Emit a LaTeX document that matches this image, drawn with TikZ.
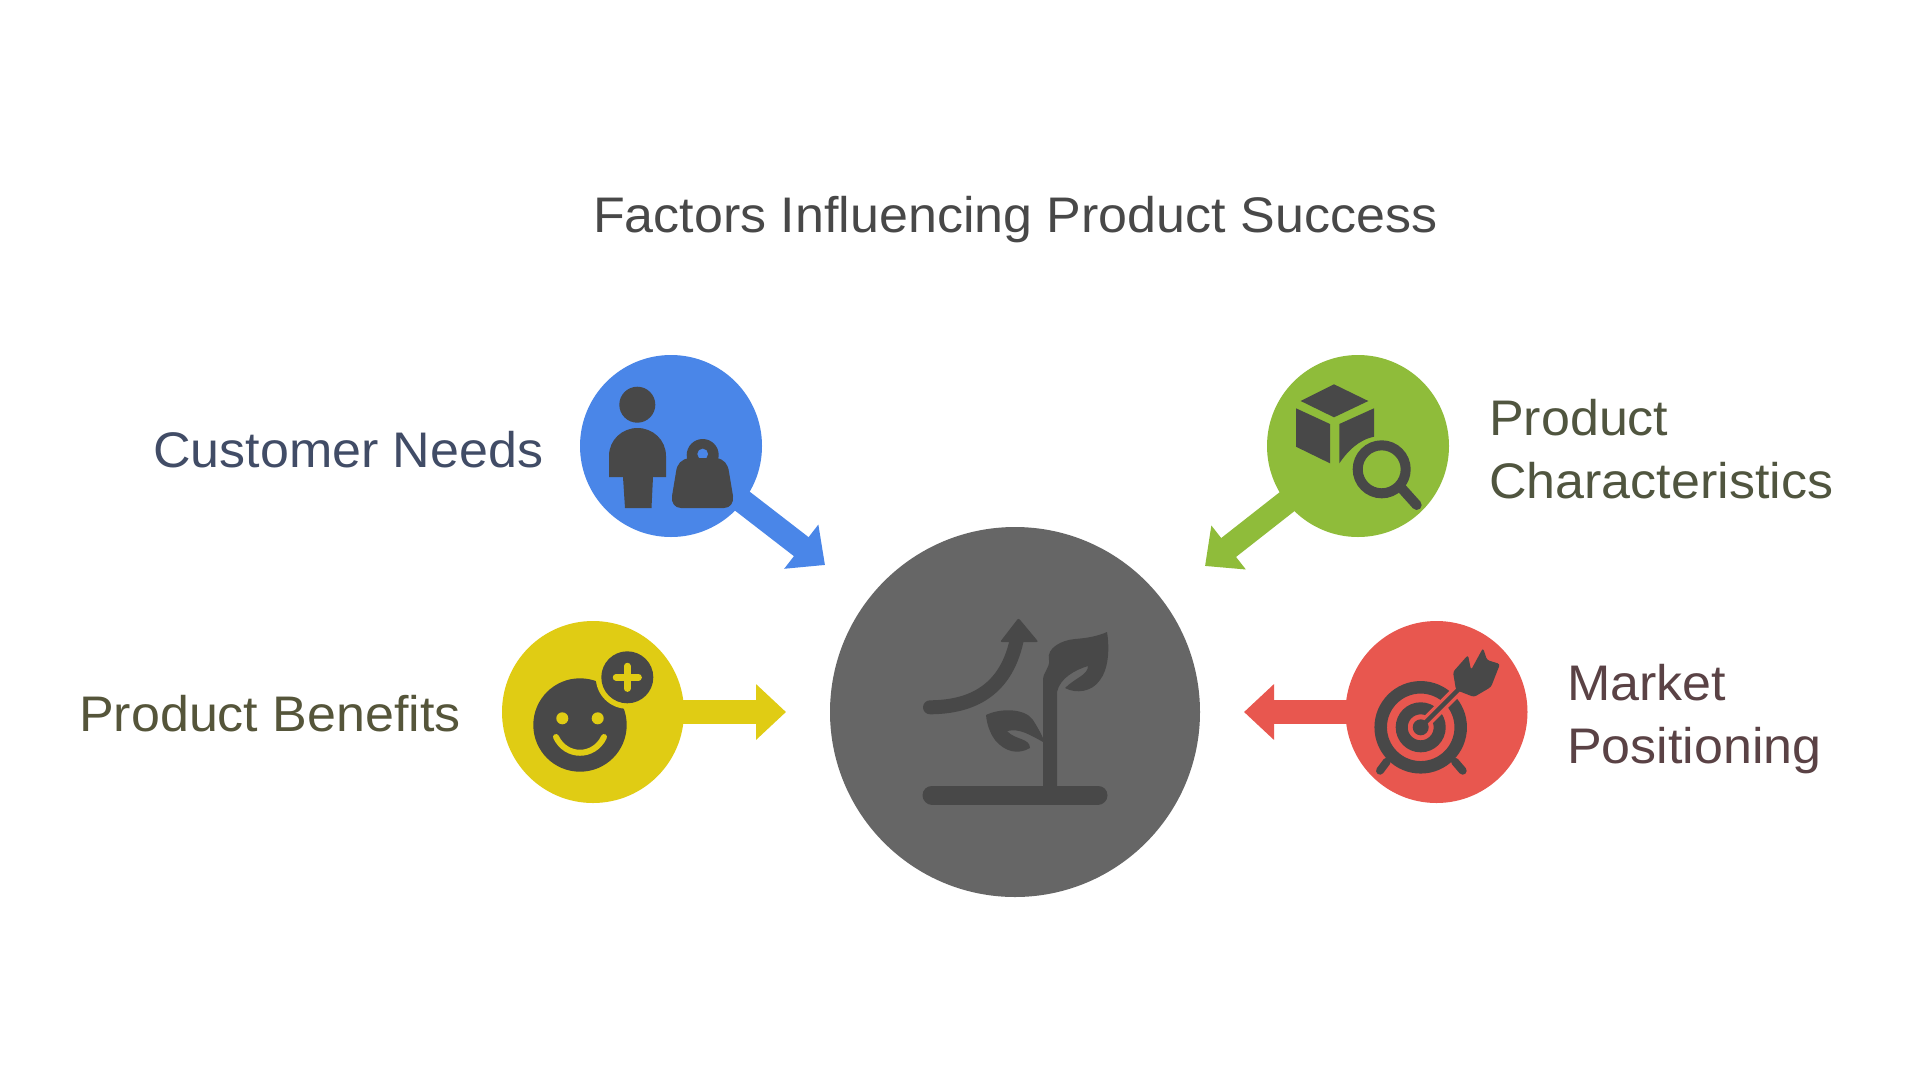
\documentclass[tikz,border=0pt]{standalone}
\usepackage{fontspec}
\setmainfont{Liberation Sans}[FakeStretch=1.04]
\usetikzlibrary{arrows.meta}
\definecolor{cblue}{HTML}{4A86E8}
\definecolor{cgreen}{HTML}{8FBC3A}
\definecolor{cyellow}{HTML}{E0CC14}
\definecolor{cred}{HTML}{E8574F}
\definecolor{cgrey}{HTML}{666666}
\definecolor{cicon}{HTML}{484848}
\definecolor{tblue}{HTML}{414C66}
\definecolor{tyellow}{HTML}{55553A}
\definecolor{tgreen}{HTML}{50553F}
\definecolor{tred}{HTML}{5A4245}
\tikzset{
  disc/.style={circle,inner sep=0pt,minimum size=182pt,fill=#1},
  pointer/.style={line width=24pt,draw=#1,shorten <=-4pt,-{Triangle[width=54pt,length=30pt]}},
  label/.style={inner sep=0pt,align=left,font=\fontsize{50}{63}\selectfont},
  icon/.style={fill=cicon,draw=none},
  stroke/.style={draw=cicon,line cap=round}
}
\begin{document}
\begin{tikzpicture}[x=1pt,y=-1pt]
\useasboundingbox (0,0) rectangle (1920,1080);
\fill[white] (0,0) rectangle (1920,1080);
% title
\node[label,text=cicon,anchor=base west] (title) at (593,232) {Factors Influencing Product Success};
% circles
\node[circle,inner sep=0pt,minimum size=370pt,fill=cgrey] (hub) at (1015,712) {};
\node[disc=cblue] (needs) at (671,446) {};
\node[disc=cgreen] (chars) at (1358,446) {};
\node[disc=cyellow] (benefits) at (593,712) {};
\node[disc=cred] (market) at (1436.5,712) {};
% arrow tips
\coordinate (tneeds) at (825,565);
\coordinate (tchars) at (1205,566);
\coordinate (tbenefits) at (786,712);
\coordinate (tmarket) at (1244,712);
\draw[pointer=cblue] (needs) -- (tneeds);
\draw[pointer=cgreen] (chars) -- (tchars);
\draw[pointer=cyellow] (benefits) -- (tbenefits);
\draw[pointer=cred] (market) -- (tmarket);
% labels
\node[label,text=tblue,anchor=base west] (lneeds) at (153,467) {Customer Needs};
\node[label,text=tyellow,anchor=base west] (lbenefits) at (79,731) {Product Benefits};
\node[label,text=tgreen,anchor=west] (lchars) at (1489,449) {Product\\Characteristics};
\node[label,text=tred,anchor=west] (lmarket) at (1567,719) {Market\\Positioning};
% person
\fill[icon] (637.3,404.7) circle[radius=18pt];
\fill[icon] (609,477) -- (609,456) .. controls (609,440) and (622,428) .. (637.5,428)
  .. controls (653,428) and (666,440) .. (666,456) -- (666,477) -- (653,477) -- (651.5,508) -- (625,508) -- (623,477) -- cycle;
% bag
\fill[icon,even odd rule] (702.7,455) circle[radius=16pt] (702.7,454) circle[radius=5.5pt];
\fill[cblue] (695,458) rectangle (710,470);
\fill[icon] (690,458) -- (716,458) .. controls (724,459) and (728,464) .. (729,472) -- (733,496)
  .. controls (734,503) and (730,508) .. (724,508) -- (681,508) .. controls (675,508) and (671,503) .. (672,496)
  -- (676,472) .. controls (677,464) and (681,459) .. (690,458) -- cycle;
% box and lens
\fill[icon] (1334,384.3) -- (1368.3,401) -- (1334,417.3) -- (1300.7,401) -- cycle;
\fill[icon] (1296,408.3) -- (1330,424) -- (1330,463.3) -- (1296,446.7) -- cycle;
\fill[icon] (1339.3,424) -- (1374,408.3) -- (1374,436.7) .. controls (1358,440) and (1347,452) .. (1339.3,463.3) -- cycle;
\draw[stroke,line width=10pt] (1381.7,469.3) circle[radius=24pt];
\draw[stroke,line width=10pt] (1401.7,488.3) -- (1416.7,505);
% smiley
\fill[icon] (580,725) circle[radius=46.7pt];
\fill[cyellow] (627.3,677.3) circle[radius=31.5pt];
\fill[icon] (627.3,677.3) circle[radius=26pt];
\draw[cyellow,line width=6.5pt,line cap=round] (616,677.3) -- (638.6,677.3) (627.3,666) -- (627.3,688.6);
\fill[cyellow] (562.3,718.3) circle[radius=6pt] (597.7,718.3) circle[radius=6pt];
\draw[cyellow,line width=6pt,line cap=round] (556,737) .. controls (566,758) and (594,758) .. (604,737);
% target
\draw[draw=cicon,line width=12.5pt] (1420.7,727.3) circle[radius=40pt];
\draw[draw=cicon,line width=12pt] (1420.7,727.3) circle[radius=19pt];
\draw[cred,line width=11pt] (1420.7,727.3) -- (1458,690);
\fill[icon] (1420.7,727.3) circle[radius=8pt];
\draw[stroke,line width=4.5pt] (1420.7,727.3) -- (1462,686);
\draw[stroke,line width=8pt] (1386.7,761.7) -- (1380,770.7) (1455,761.7) -- (1462.7,770.7);
\fill[icon,rounded corners=2.5pt] (1453,672) -- (1468,655) -- (1471,670) -- (1483,648) -- (1487,660) -- (1500,664) -- (1491,687) -- (1474,697) -- (1456,690) -- cycle;
% plant
\draw[stroke,line width=19pt] (932,795) -- (1098,795);
\fill[icon] (1043,795) -- (1043,680) .. controls (1043,672) and (1050,668) .. (1049,660)
  .. controls (1046,648) and (1062,640) .. (1075,639) .. controls (1088,638) and (1098,636) .. (1107,632)
  .. controls (1110,650) and (1108,670) .. (1100,680) .. controls (1092,692) and (1076,694) .. (1065,688)
  .. controls (1075,678) and (1088,675) .. (1088,666) .. controls (1075,670) and (1060,678) .. (1057,692)
  -- (1057,795) -- cycle;
\fill[icon] (986,715) .. controls (1000,708) and (1025,708) .. (1033,720) .. controls (1038,728) and (1042,735) .. (1045,743)
  .. controls (1030,735) and (1020,728) .. (1007,731) .. controls (1015,740) and (1030,738) .. (1030,748)
  .. controls (1018,755) and (1005,752) .. (995,740) .. controls (990,733) and (987,725) .. (986,715) -- cycle;
\draw[stroke,line width=14pt] (930,707.3) .. controls (966,707) and (1005,695) .. (1016.7,640);
\fill[icon,rounded corners=2pt] (1018.5,618) -- (1038.5,642) -- (1000,642) -- cycle;
\end{tikzpicture}
\end{document}
